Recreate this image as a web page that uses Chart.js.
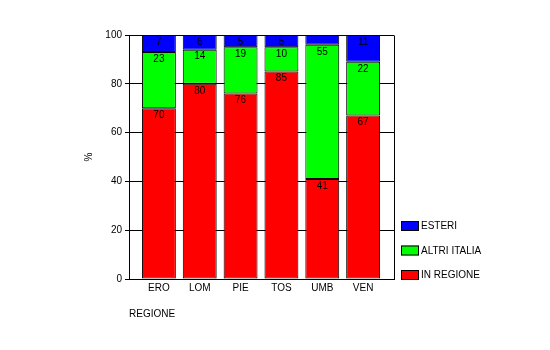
<!DOCTYPE html>
<html>
<head>
<meta charset="utf-8">
<script src="https://cdn.jsdelivr.net/npm/chart.js@4/dist/chart.umd.min.js"></script>
<style>
  html, body { margin: 0; padding: 0; background: #fff; }
  canvas { display: block; }
</style>
</head>
<body>
<canvas id="c" width="550" height="350"></canvas>
<script>
const categories = ['ERO', 'LOM', 'PIE', 'TOS', 'UMB', 'VEN'];
const inRegione = [70, 80, 76, 85, 41, 67];
const altriItalia = [23, 14, 19, 10, 55, 22];
const esteri = [7, 6, 5, 5, 4, 11];
const seriesNames = ['IN REGIONE', 'ALTRI ITALIA', 'ESTERI'];
const seriesColors = ['#ff0000', '#00ff00', '#0000ff'];
const yTicks = [0, 20, 40, 60, 80, 100];
const xTitle = 'REGIONE';
const yTitle = '%';

const FONT = '"Liberation Sans", Arial, sans-serif';

function toPoints(arr) { return arr.map((v, i) => ({ x: i, y: v })); }

const extras = {
  id: 'extras',
  afterDatasetsDraw(chart) {
    const ctx = chart.ctx;
    const ca = chart.chartArea;
    ctx.save();
    // right border
    ctx.strokeStyle = '#000';
    ctx.lineWidth = 1;
    ctx.beginPath();
    ctx.moveTo(Math.round(ca.right) + 0.5, Math.round(ca.top) + 0.5);
    ctx.lineTo(Math.round(ca.right) + 0.5, Math.round(ca.bottom) + 0.5);
    ctx.stroke();
    // value labels
    ctx.fillStyle = '#000';
    ctx.font = '10px ' + FONT;
    ctx.textAlign = 'center';
    ctx.textBaseline = 'middle';
    chart.data.datasets.forEach((ds, di) => {
      const meta = chart.getDatasetMeta(di);
      meta.data.forEach((el, i) => {
        const v = ds.data[i].y;
        if (v >= 5) ctx.fillText(String(v), el.x, el.y + 7);
      });
    });
    // legend (reversed)
    const n = chart.data.datasets.length;
    for (let k = 0; k < n; k++) {
      const di = n - 1 - k;
      const ds = chart.data.datasets[di];
      const y = 221 + k * 24.5;
      ctx.fillStyle = ds.backgroundColor;
      ctx.fillRect(401, y, 18, 10);
      ctx.strokeStyle = '#000';
      ctx.strokeRect(401.5, y + 0.5, 17, 9);
      ctx.fillStyle = '#000';
      ctx.textAlign = 'left';
      ctx.fillText(ds.label, 421, y + 5.5);
    }
    // axis titles
    ctx.textAlign = 'left';
    ctx.fillText(xTitle, 129, 314);
    ctx.save();
    ctx.translate(89, 157);
    ctx.rotate(-Math.PI / 2);
    ctx.textAlign = 'center';
    ctx.fillText(yTitle, 0, 0);
    ctx.restore();
    ctx.restore();
  }
};

new Chart(document.getElementById('c'), {
  type: 'bar',
  data: {
    datasets: [
      { label: seriesNames[0], data: toPoints(inRegione), backgroundColor: seriesColors[0] },
      { label: seriesNames[1], data: toPoints(altriItalia), backgroundColor: seriesColors[1] },
      { label: seriesNames[2], data: toPoints(esteri), backgroundColor: seriesColors[2] }
    ].map(d => Object.assign(d, {
      borderColor: '#000', borderWidth: 1, borderSkipped: false,
      barPercentage: 0.83, categoryPercentage: 1
    }))
  },
  options: {
    responsive: false,
    animation: false,
    devicePixelRatio: 1,
    layout: { padding: { left: 0, top: 35, right: 156, bottom: 0 } },
    plugins: { legend: { display: false }, tooltip: { enabled: false } },
    scales: {
      x: {
        type: 'linear',
        stacked: true,
        offset: false,
        bounds: 'data',
        min: -0.732,
        max: 5.756,
        afterBuildTicks(s) { s.ticks = categories.map((_, i) => ({ value: i })); },
        afterFit(s) { s.height = 71; },
        grid: { display: false, drawTicks: false, offset: false },
        border: { color: '#000', width: 1 },
        ticks: {
          color: '#000', font: { size: 10, family: FONT }, padding: 3,
          maxRotation: 0, autoSkip: false,
          callback: v => categories[v] ?? ''
        }
      },
      y: {
        stacked: true,
        min: 0,
        max: 100,
        afterBuildTicks(s) { s.ticks = yTicks.map(v => ({ value: v })); },
        afterFit(s) { s.width = 129; },
        grid: { color: '#000', lineWidth: 1, tickLength: 4, drawTicks: true },
        border: { color: '#000', width: 1 },
        ticks: { color: '#000', font: { size: 10, family: FONT }, padding: 3 }
      }
    }
  },
  plugins: [extras]
});
</script>
</body>
</html>
